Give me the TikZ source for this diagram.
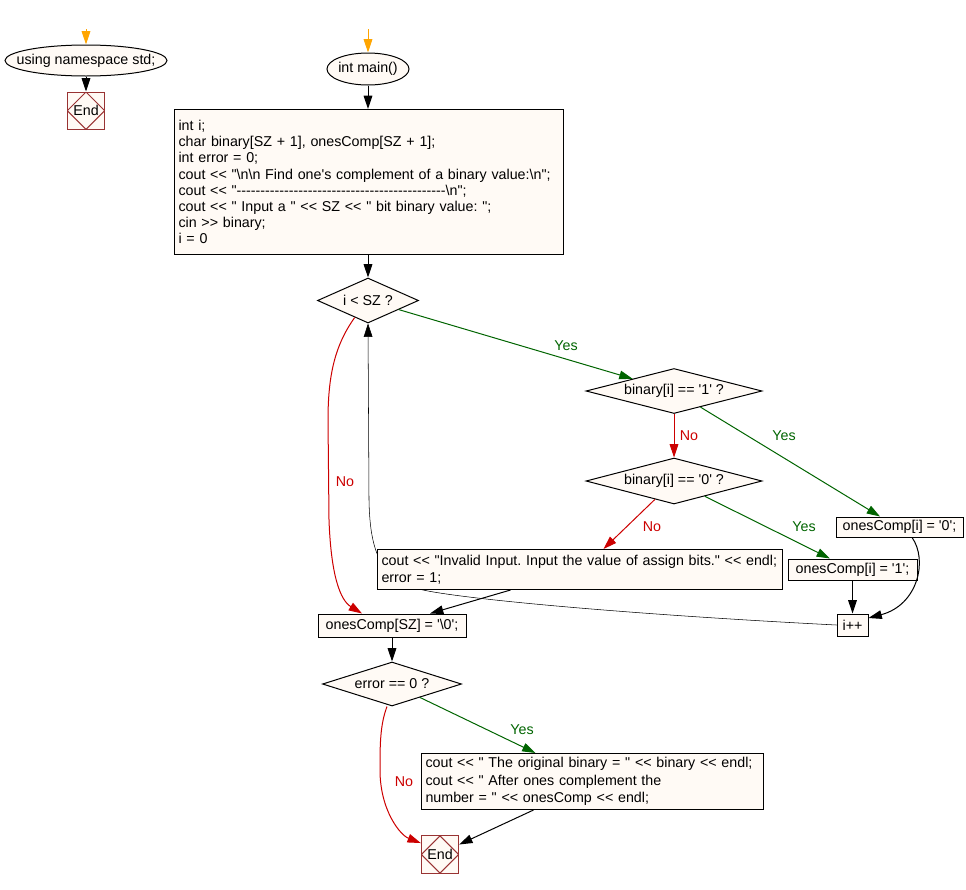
\documentclass[tikz,border=0pt]{standalone}
\usepackage{fontspec}
\setmainfont{Liberation Sans}[Ligatures=TeXOff]
\usetikzlibrary{shapes.geometric,arrows.meta,backgrounds}
\definecolor{cream}{RGB}{255,250,245}
\definecolor{fred}{RGB}{204,0,0}
\definecolor{fgreen}{RGB}{0,100,0}
\definecolor{forange}{RGB}{255,165,0}
\definecolor{endred}{RGB}{153,51,51}
\frenchspacing
\begin{document}
\begin{tikzpicture}[x=0.75pt,y=-0.75pt,line width=0.75pt,
  font=\fontsize{10.7pt}{12.8pt}\selectfont,
  box/.style={draw=black,fill=cream,inner sep=0pt},
  codebox/.style={draw=black,fill=cream,anchor=north west,align=left,inner xsep=3pt,inner ysep=0pt},
  oval/.style={ellipse,draw=black,fill=cream,inner xsep=-16pt,inner ysep=-4pt},
  dia/.style={diamond,draw=black,fill=cream,inner sep=0pt},
  endbox/.style={draw=endred,fill=cream,minimum width=28pt,minimum height=28pt,inner sep=0pt,
    path picture={\draw[endred] (path picture bounding box.north) -- (path picture bounding box.east) -- (path picture bounding box.south) -- (path picture bounding box.west) -- cycle;}},
  tip/.style={-{Triangle[length=10pt,width=6.5pt]}},
  arr/.style={draw=black,tip},
  yarr/.style={draw=fgreen,tip},
  narr/.style={draw=fred,tip},
  oarr/.style={draw=forange,tip},
  ylab/.style={text=fgreen,inner sep=0pt},
  nlab/.style={text=fred,inner sep=0pt}]
\useasboundingbox (0,0) rectangle (966,889);

% left column
\coordinate (s1) at (86,29);
\node[oval,minimum width=121.5pt,minimum height=23.25pt] (ns) at (86,60.5) {using namespace std;};
\node[endbox] (end1) at (86,110.7) {End};
\draw[oarr] (s1) -- (ns.north);
\draw[arr] (ns.south) -- (end1.north);

% main column
\coordinate (s2) at (368,29);
\node[oval,minimum width=61.5pt,minimum height=24pt] (main) at (368,69) {int main()};
\node[codebox,text width=285.75pt,minimum height=108.75pt,font=\fontsize{10.7pt}{12.15pt}\selectfont] (code) at (174,109) {int i;\\
char binary[SZ + 1], onesComp[SZ + 1];\\
int error = 0;\\
cout << "\textbackslash n\textbackslash n Find one's complement of a binary value:\textbackslash n";\\
cout << "--------------------------------------------\textbackslash n";\\
cout << " Input a " << SZ << " bit binary value: ";\\
cin >> binary;\\
i = 0};
\draw[oarr] (s2) -- (main.north);
\draw[arr] (main.south) -- (code.north -| main.south);

\node[dia,aspect=2.2,minimum width=75.75pt,minimum height=33.75pt] (d1) at (368,300.5) {i < SZ ?};
\draw[arr] (code.south -| d1.north) -- (d1.north);

\node[dia,aspect=3.9,minimum width=132pt,minimum height=33.75pt] (d2) at (674,391) {binary[i] == '1' ?};
\node[dia,aspect=3.8,minimum width=132pt,minimum height=34.5pt] (d3) at (674,481) {binary[i] == '0' ?};
\node[box,minimum width=95.25pt,minimum height=15pt] (oc0) at (899.5,527) {onesComp[i] = '0';};
\node[box,minimum width=96.75pt,minimum height=15.75pt] (oc1) at (852.5,569.5) {onesComp[i] = '1';};
\node[box,minimum width=23.25pt,minimum height=16.5pt] (inc) at (852.5,625) {i++};
\node[codebox,text width=297.75pt,minimum height=30pt,font=\fontsize{10.7pt}{12.75pt}\selectfont] (inv) at (377,549) {cout << "Invalid Input. Input the value of assign bits." << endl;\\
error = 1;};
\node[box,minimum width=111pt,minimum height=17.25pt] (ocsz) at (392,625.5) {onesComp[SZ] = '\textbackslash 0';};
\node[dia,aspect=3.2,minimum width=104.25pt,minimum height=33pt] (d4) at (392,684) {error == 0 ?};
\node[codebox,text width=250.5pt,minimum height=42pt,font=\fontsize{10.7pt}{13.1pt}\selectfont] (out) at (421,753) {cout << " The original binary = " << binary << endl;\\
cout << " After ones complement the\\
number = " << onesComp << endl;};
\node[endbox] (end2) at (440,854.5) {End};

% loop back (behind the invalid-input box)
\begin{scope}[on background layer]
\draw[arr] (inc.west) .. controls (640,615) and (470,600) .. (423,590) .. controls (385,580) and (370,560) .. (369,500) -- (d1.south);
\end{scope}

% connectors
\draw[yarr] (d1) -- (d2);
\node[ylab] (y1) at (566,346) {Yes};
\draw[narr] (d2.south) -- (d3.north);
\node[nlab] (n1) at (689,436) {No};
\draw[yarr] (d2) -- ([xshift=-14.6pt]oc0.north);
\node[ylab] (y2) at (784,436) {Yes};
\draw[narr] (d3) -- ([xshift=17.6pt]inv.north);
\node[nlab] (n2) at (652,527) {No};
\draw[yarr] (d3) -- ([xshift=-16.9pt]oc1.north);
\node[ylab] (y3) at (804,527) {Yes};
\draw[arr] (oc1.south) -- (inc.north);
\draw[arr] ([xshift=9.4pt]oc0.south) .. controls (928,560) and (918,605) .. ([yshift=5.25pt]inc.east);

\draw[narr] (d1.232) .. controls (335,345) and (328,375) .. (328,420) -- (329,520) .. controls (331,575) and (340,600) .. ([xshift=-22.5pt]ocsz.north);
\node[nlab] (n3) at (345,482) {No};
\draw[arr] ([xshift=-52.1pt]inv.south) -- ([xshift=28.5pt]ocsz.north);
\draw[arr] (ocsz.south) -- (d4.north);

\draw[yarr] (d4) -- ([xshift=-42.75pt]out.north);
\node[ylab] (y4) at (522,730) {Yes};
\draw[narr] ([xshift=-3.75pt]d4.south) .. controls (380,725) and (380,745) .. (380,770) .. controls (380,810) and (400,835) .. ([yshift=8.6pt]end2.west);
\node[nlab] (n4) at (404,782) {No};
\draw[arr] ([xshift=-44.25pt]out.south) -- ([yshift=7.5pt]end2.east);
\end{tikzpicture}
\end{document}
